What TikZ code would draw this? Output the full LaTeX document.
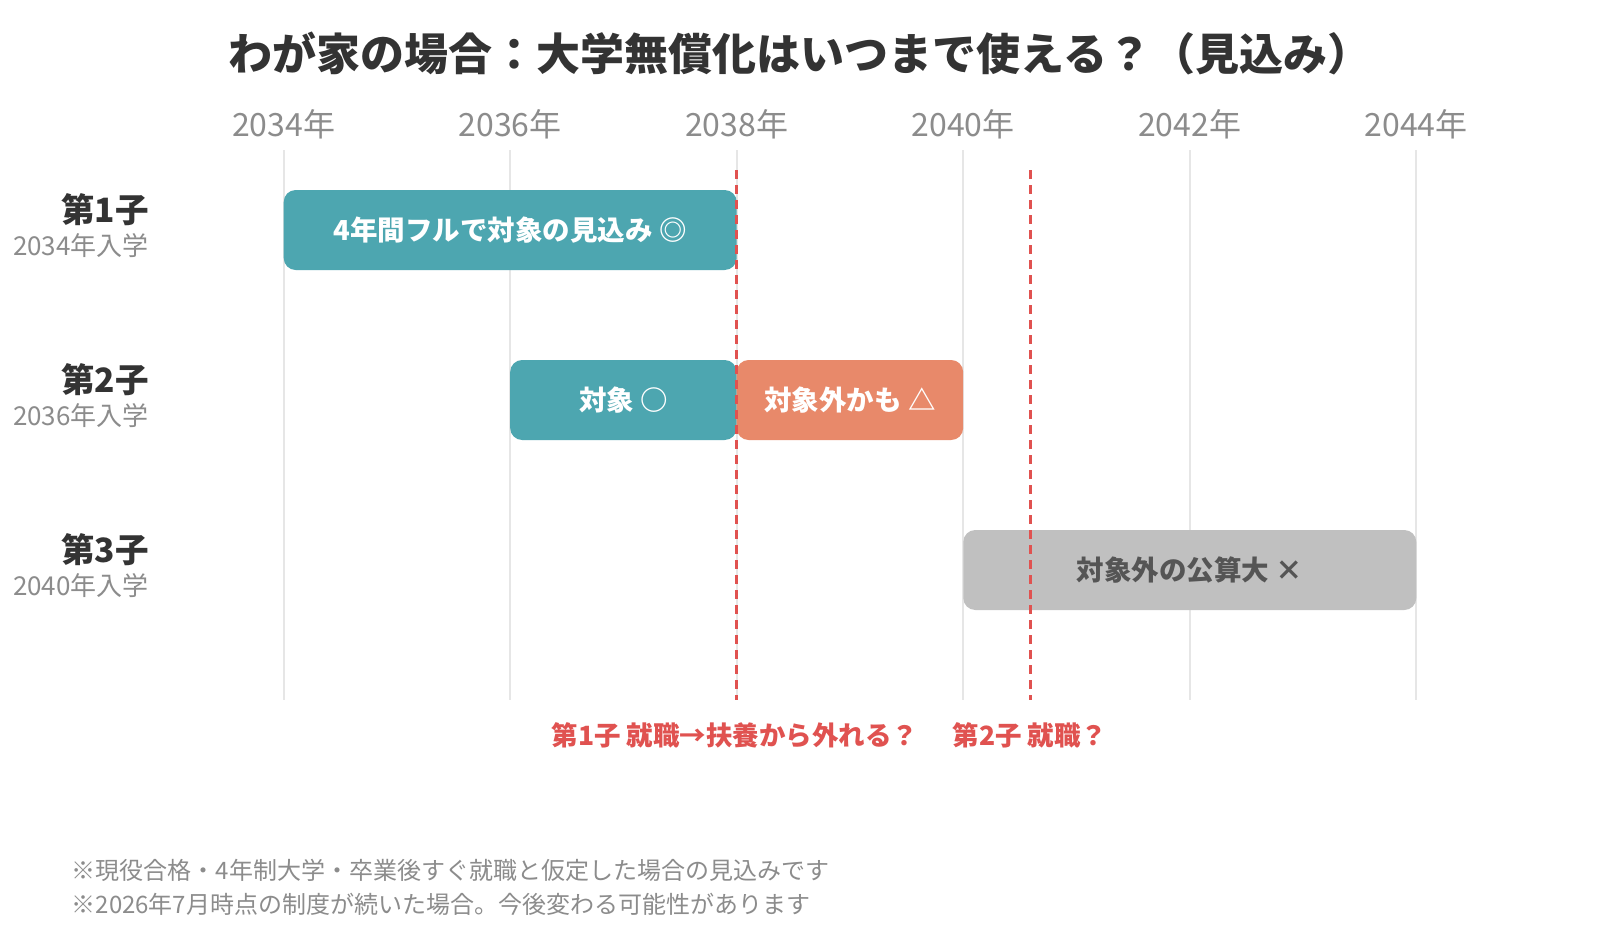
\documentclass[tikz,border=0pt]{standalone}
\usepackage{fontspec}
\setmainfont{Noto Sans CJK JP}
\usetikzlibrary{positioning}

\definecolor{teal}{HTML}{4DA6B0}
\definecolor{salmon}{HTML}{E8896A}
\definecolor{greybar}{HTML}{C0C0C0}
\definecolor{greytxt}{HTML}{555555}
\definecolor{markred}{HTML}{E05250}
\definecolor{darktxt}{HTML}{333333}
\definecolor{softtxt}{HTML}{8C8C8C}
\definecolor{gridgrey}{HTML}{E6E6E6}

\begin{document}
\begin{tikzpicture}[x=1pt,y=-1pt,
  bar/.style={rounded corners=12pt,minimum height=80pt,inner sep=0pt,
    font=\fontsize{27.5}{30}\selectfont\bfseries,text=white},
  year label/.style={font=\fontsize{32}{35}\selectfont,text=softtxt},
  child label/.style={anchor=east,inner sep=0pt,font=\fontsize{33.5}{36}\selectfont\bfseries,text=darktxt},
  entry label/.style={anchor=east,inner sep=0pt,font=\fontsize{26}{28}\selectfont,text=softtxt},
  mark label/.style={font=\fontsize{26.5}{29}\selectfont\bfseries,text=markred},
  note/.style={anchor=west,inner sep=0pt,font=\fontsize{24}{26}\selectfont,text=softtxt}]

  \useasboundingbox[fill=white] (0,0) rectangle (1600,940);

  \node[font=\fontsize{44}{48}\selectfont\bfseries,text=darktxt] (title) at (800,53)
    {わが家の場合：大学無償化はいつまで使える？（見込み）};

  % years and grid
  \foreach \yr [count=\i from 0] in {2034,2036,...,2044}{
    \node[year label] (y\yr) at (283.7+226.5*\i,124) {\yr{}年};
    \draw[gridgrey,line width=2pt] (283.7+226.5*\i,150) -- (283.7+226.5*\i,700);
  }

  % children
  \node[child label] (c1) at (149,210) {第1子};
  \node[entry label] (e1) at (149,246) {2034年入学};
  \node[child label] (c2) at (149,380) {第2子};
  \node[entry label] (e2) at (149,416) {2036年入学};
  \node[child label] (c3) at (149,550) {第3子};
  \node[entry label] (e3) at (149,586) {2040年入学};

  % bars
  \node[bar,fill=teal,minimum width=453pt] (b1) at (510.2,230) {4年間フルで対象の見込み ◎};
  \node[bar,fill=teal,minimum width=226.5pt] (b2) at (623.4,400) {対象 ○};
  \node[bar,fill=salmon,minimum width=226.5pt] (b2x) at (849.9,400) {対象外かも △};
  \node[bar,fill=greybar,text=greytxt,minimum width=453pt] (b3) at (1189.8,570) {対象外の公算大 ×};

  % job markers
  \coordinate (m1top) at (736.7,170);
  \coordinate (m1bot) at (736.7,700);
  \coordinate (m2top) at (1030.6,170);
  \coordinate (m2bot) at (1030.6,700);
  \draw[markred,line width=2.5pt,dash pattern=on 9pt off 6pt] (m1top) -- (m1bot);
  \draw[markred,line width=2.5pt,dash pattern=on 9pt off 6pt] (m2top) -- (m2bot);
  \node[mark label] (j1) at (735,735) {第1子 就職→扶養から外れる？};
  \node[mark label] (j2) at (1030,735) {第2子 就職？};

  \node[note] (n1) at (71.5,870) {※現役合格・4年制大学・卒業後すぐ就職と仮定した場合の見込みです};
  \node[note] (n2) at (71.5,904) {※2026年7月時点の制度が続いた場合。今後変わる可能性があります};
\end{tikzpicture}
\end{document}
